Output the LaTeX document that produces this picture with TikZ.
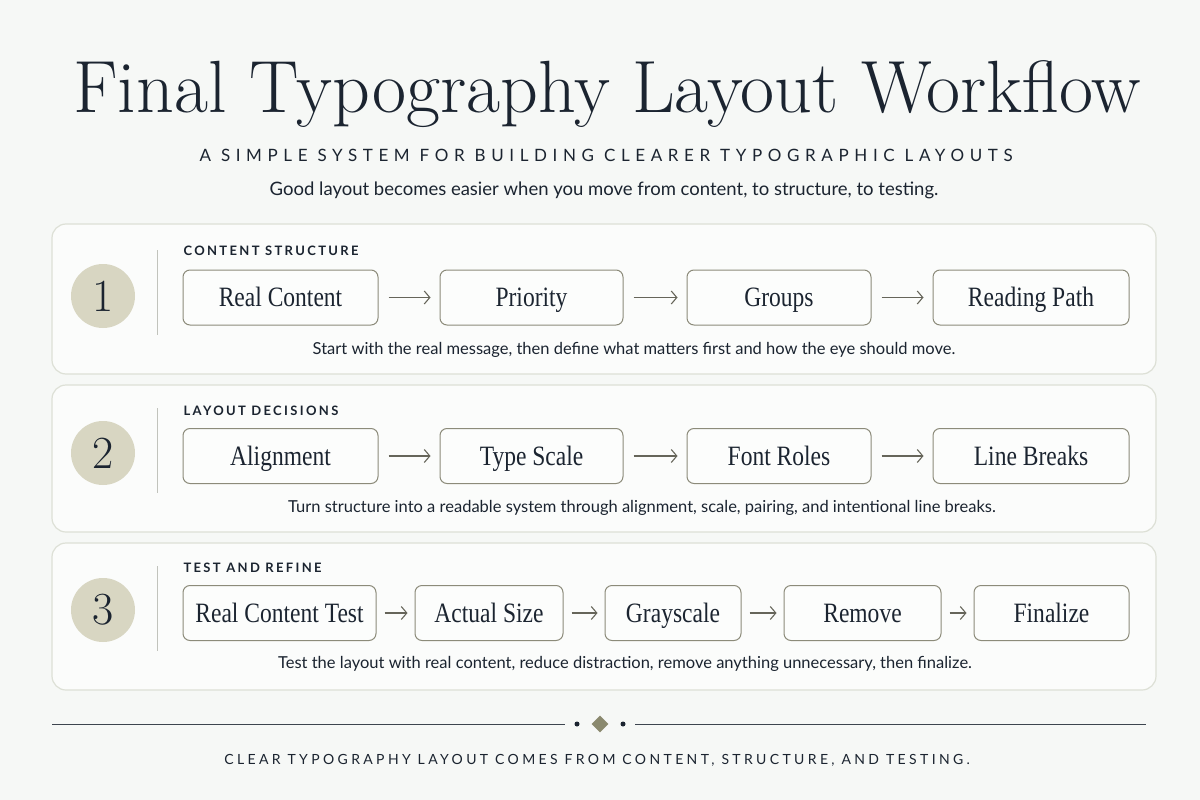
\documentclass[tikz,border=0pt]{standalone}
\usepackage{fontspec}
\setsansfont{Lato}
\newfontfamily\boxfont[FakeStretch=0.84]{Liberation Serif}
\newfontfamily\widecaps[LetterSpace=33]{Lato}
\newfontfamily\tagcaps[LetterSpace=18]{Lato}
\newfontfamily\notecaps[LetterSpace=24]{Lato}
\usepackage{tikz}
\usetikzlibrary{positioning, arrows.meta, shapes.geometric}
\usepackage{xcolor}

\definecolor{ink}{HTML}{1B2430}
\definecolor{paper}{HTML}{F6F8F6}
\definecolor{panelline}{HTML}{DDE0D6}
\definecolor{boxline}{HTML}{8C8B7A}
\definecolor{disc}{HTML}{D8D6C2}
\definecolor{olive}{HTML}{8A896E}
\definecolor{arrowink}{HTML}{66655A}

\begin{document}
\begin{tikzpicture}[
    x=1pt, y=-1pt,
    panel/.style={draw=panelline, line width=1.2pt, rounded corners=14pt, fill=white!55!paper},
    stepbox/.style={draw=boxline, line width=1pt, rounded corners=7pt, fill=white!70!paper,
        minimum height=55pt, inner sep=0pt, text height=22pt, text depth=4pt, text=ink,
        font=\boxfont\fontsize{28}{30}\selectfont},
    num/.style={circle, fill=disc, minimum size=64pt, inner sep=0pt, text=ink,
        font=\fontsize{46}{48}\selectfont\addfontfeature{FakeBold=1}},
    rowlabel/.style={anchor=west, text=ink, font=\tagcaps\bfseries\fontsize{13}{15}\selectfont},
    caption/.style={text=ink, font=\sffamily\fontsize{16.5}{19}\selectfont},
    divider/.style={draw=panelline!70!gray, line width=1pt},
    flow/.style={-{Straight Barb[length=5.5pt, width=13pt]}, draw=arrowink, line width=1.1pt,
        shorten <=10pt, shorten >=9pt}
]
    \useasboundingbox[fill=paper] (0,0) rectangle (1200,800);

    % Heading:
    \node[anchor=base, text=ink, font=\fontsize{74}{76}\selectfont\addfontfeature{FakeBold=1.6}] (title)
        at (607,112) {Final Typography Layout Workflow};
    \node[text=ink, font=\widecaps\fontsize{17}{20}\selectfont] (subtitle) at (606,155)
        {A SIMPLE SYSTEM FOR BUILDING CLEARER TYPOGRAPHIC LAYOUTS};
    \node[text=ink, font=\sffamily\fontsize{18.5}{21}\selectfont] (intro) at (604,190)
        {Good layout becomes easier when you move from content, to structure, to testing.};

    % Three panels:
    \node[panel, minimum width=1104pt, minimum height=150pt] (p1) at (604,299) {};
    \node[panel, minimum width=1104pt, minimum height=147pt] (p2) at (604,458.5) {};
    \node[panel, minimum width=1104pt, minimum height=147pt] (p3) at (604,616.5) {};

    % Stage 1
    \node[num] (n1) at (103,296) {1};
    \draw[divider] (157,250) -- (157,335);
    \node[rowlabel] (l1) at (180,251) {CONTENT STRUCTURE};
    \node[stepbox, minimum width=195pt] (a1) at (280.5,297.5) {Real Content};
    \node[stepbox, minimum width=183pt] (a2) at (531.5,297.5) {Priority};
    \node[stepbox, minimum width=184pt] (a3) at (779,297.5) {Groups};
    \node[stepbox, minimum width=196pt] (a4) at (1031,297.5) {Reading Path};
    \node[caption] (c1) at (634,350)
        {Start with the real message, then define what matters first and how the eye should move.};
    \path[flow] (a1) edge (a2) (a2) edge (a3) (a3) edge (a4);

    % Stage 2
    \node[num] (n2) at (103,453) {2};
    \draw[divider] (157,408) -- (157,493);
    \node[rowlabel] (l2) at (180,411) {LAYOUT DECISIONS};
    \node[stepbox, minimum width=195pt] (b1) at (280.5,456) {Alignment};
    \node[stepbox, minimum width=183pt] (b2) at (531.5,456) {Type Scale};
    \node[stepbox, minimum width=184pt] (b3) at (779,456) {Font Roles};
    \node[stepbox, minimum width=196pt] (b4) at (1031,456) {Line Breaks};
    \node[caption] (c2) at (642,508)
        {Turn structure into a readable system through alignment, scale, pairing, and intentional line breaks.};
    \path[flow] (b1) edge (b2) (b2) edge (b3) (b3) edge (b4);

    % Stage 3
    \node[num] (n3) at (103,610) {3};
    \draw[divider] (157,566) -- (157,651);
    \node[rowlabel] (l3) at (180,568) {TEST AND REFINE};
    \node[stepbox, minimum width=193pt] (d1) at (279.5,613) {Real Content Test};
    \node[stepbox, minimum width=148pt] (d2) at (489,613) {Actual Size};
    \node[stepbox, minimum width=136pt] (d3) at (673,613) {Grayscale};
    \node[stepbox, minimum width=157pt] (d4) at (862.5,613) {Remove};
    \node[stepbox, minimum width=155pt] (d5) at (1051.5,613) {Finalize};
    \node[caption] (c3) at (625,664)
        {Test the layout with real content, reduce distraction, remove anything unnecessary, then finalize.};
    \path[flow, shorten <=8pt, shorten >=7pt]
        (d1) edge (d2) (d2) edge (d3) (d3) edge (d4) (d4) edge (d5);

    % Closing rule and note
    \coordinate (ruleL) at (52,724);
    \coordinate (ruleR) at (1146,724);
    \node[circle, fill=ink, minimum size=5pt, inner sep=0pt] (dotL) at (577,724) {};
    \node[diamond, fill=olive, minimum size=17pt, inner sep=0pt] (gem) at (600,724) {};
    \node[circle, fill=ink, minimum size=5pt, inner sep=0pt] (dotR) at (623,724) {};
    \draw[ink!85, line width=1pt] (ruleL) -- ([xshift=-12pt]dotL.center);
    \draw[ink!85, line width=1pt] ([xshift=12pt]dotR.center) -- (ruleR);
    \node[text=ink, font=\notecaps\fontsize{14}{16}\selectfont] (note) at (597,760)
        {CLEAR TYPOGRAPHY LAYOUT COMES FROM CONTENT, STRUCTURE, AND TESTING.};
\end{tikzpicture}
\end{document}
